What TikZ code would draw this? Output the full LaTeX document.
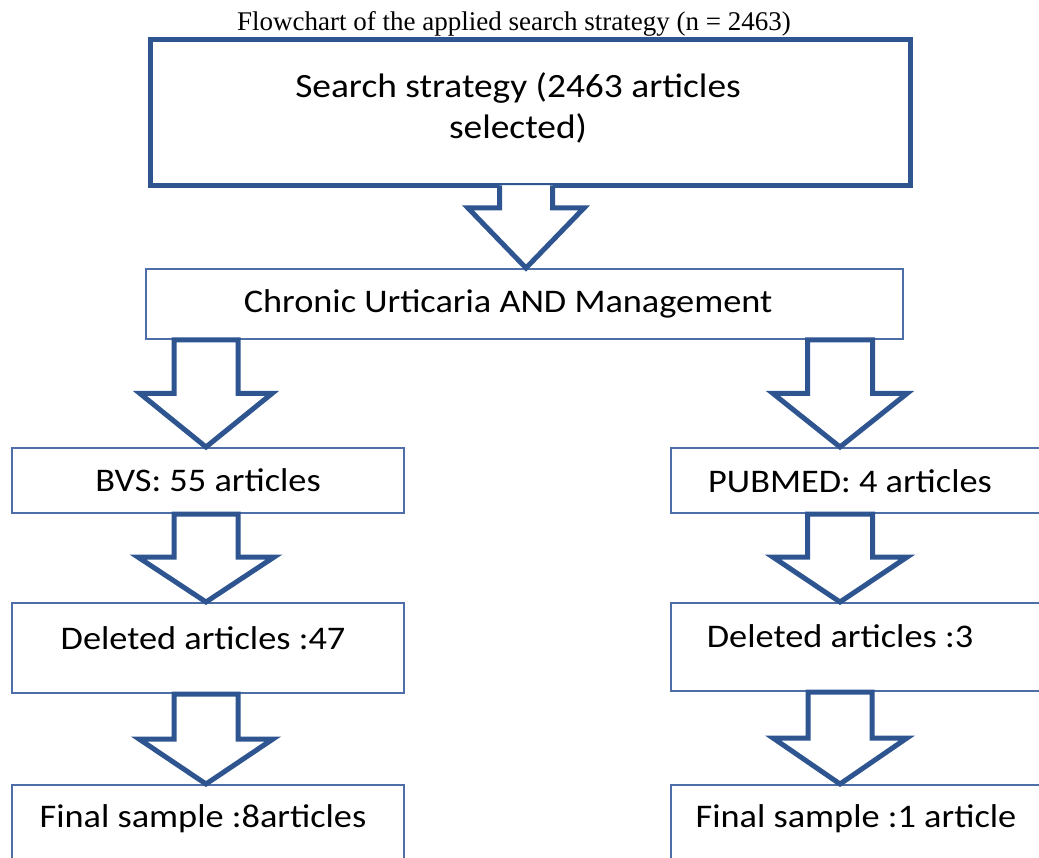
\documentclass[tikz,border=0pt]{standalone}
\usepackage{fontspec}
\usepackage{tikz}
\usetikzlibrary{calc}
\newfontfamily\titleFont{Liberation Serif}
\newfontfamily\boxFont[FakeStretch=1.1]{Carlito}
\definecolor{arrowBlue}{RGB}{47,85,145}
\definecolor{thinBlue}{RGB}{78,110,168}
\tikzstyle{canvas} = [x = 1pt, y = -1pt]
\tikzstyle{thickBoxStyle} = [draw=arrowBlue, line width=5pt, fill=white, inner sep=0pt, anchor=north west]
\tikzstyle{thinBoxStyle} = [draw=thinBlue, line width=2pt, fill=white, inner sep=0pt, anchor=north west]
\tikzstyle{arrowStyle} = [draw=arrowBlue, line width=5pt, fill=white, line join=miter]
\tikzstyle{bigText} = [font=\boxFont\fontsize{34pt}{41pt}\selectfont, inner sep=0pt, align=center]
\tikzstyle{boxText} = [font=\boxFont\fontsize{33pt}{40pt}\selectfont, inner sep=0pt, anchor=base]
\tikzstyle{titleText} = [font=\titleFont\fontsize{27pt}{31pt}\selectfont, inner sep=0pt, anchor=base]
\newcommand{\thickBox}[5]{\node [thickBoxStyle, minimum width=#4pt, minimum height=#5pt] (#1) at (#2,#3) {};}
\newcommand{\thinBox}[5]{\node [thinBoxStyle, minimum width=#4pt, minimum height=#5pt] (#1) at (#2,#3) {};}
\newcommand{\boxLabel}[4]{\node [boxText] (#1) at (#2,#3) {#4};}
\newcommand{\blockArrow}[6]{
  \path (#2.south -| #1) coordinate (arrowTop) (#3.north -| #1) coordinate (arrowTip);
  \filldraw [arrowStyle] let \p1 = (arrowTop), \p2 = (arrowTip), \p3 = ($(arrowTop)!#6!(arrowTip)$) in
    (\x1 - #4pt, \y1) -- (\x1 - #4pt, \y3) -- (\x1 - #5pt, \y3) -- (\p2)
    -- (\x1 + #5pt, \y3) -- (\x1 + #4pt, \y3) -- (\x1 + #4pt, \y1) -- cycle;
}
\newcommand{\blockArrowJoined}[6]{
  \path (#2.south -| #1) coordinate (arrowTop) (#3.north -| #1) coordinate (arrowTip);
  \fill [white] let \p1 = (arrowTop), \p2 = (arrowTip), \p3 = ($(arrowTop)!#6!(arrowTip)$) in
    (\x1 - #4pt, \y1 + 2.5pt) -- (\x1 - #4pt, \y3) -- (\x1 - #5pt, \y3) -- (\p2)
    -- (\x1 + #5pt, \y3) -- (\x1 + #4pt, \y3) -- (\x1 + #4pt, \y1 + 2.5pt) -- cycle;
  \draw [arrowStyle] let \p1 = (arrowTop), \p2 = (arrowTip), \p3 = ($(arrowTop)!#6!(arrowTip)$) in
    (\x1 - #4pt, \y1 + 2.5pt) -- (\x1 - #4pt, \y3) -- (\x1 - #5pt, \y3) -- (\p2)
    -- (\x1 + #5pt, \y3) -- (\x1 + #4pt, \y3) -- (\x1 + #4pt, \y1 + 2.5pt);
}
\begin{document}
\begin{tikzpicture}[canvas]
  \useasboundingbox (0,0) rectangle (1039,858);
  \clip (0,0) rectangle (1039,858);
  \fill [white] (0,0) rectangle (1039,858);

  \node [titleText] (title) at (514,31) {Flowchart of the applied search strategy (n = 2463)};

  \coordinate (topAxis) at (526,0);
  \coordinate (leftAxis) at (206,0);
  \coordinate (rightAxis) at (840,0);

  \thickBox{searchBox}{148}{37}{760}{146}
  \node [bigText] (searchText) at (518,108) {Search strategy (2463 articles\\selected)};

  \thinBox{chronicBox}{145}{268}{757}{70}
  \boxLabel{chronicText}{508}{313}{Chronic Urticaria AND Management}

  \thinBox{bvsBox}{11}{447}{392}{65}
  \boxLabel{bvsText}{208}{491}{BVS: 55 articles}
  \thinBox{pubmedBox}{670}{447}{400}{65}
  \boxLabel{pubmedText}{850}{492}{PUBMED: 4 articles}

  \thinBox{deletedLeftBox}{11}{602}{392}{90}
  \boxLabel{deletedLeftText}{203}{649}{Deleted articles :47}
  \thinBox{deletedRightBox}{670}{602}{400}{88}
  \boxLabel{deletedRightText}{840}{647}{Deleted articles :3}

  \thinBox{finalLeftBox}{11}{784}{392}{120}
  \boxLabel{finalLeftText}{203}{827}{Final sample :8articles}
  \thinBox{finalRightBox}{670}{784}{400}{120}
  \boxLabel{finalRightText}{856}{827}{Final sample :1 article}

  \blockArrowJoined{topAxis}{searchBox}{chronicBox}{26.5}{58}{0.25}
  \blockArrow{leftAxis}{chronicBox}{bvsBox}{32}{66}{0.5}
  \blockArrow{rightAxis}{chronicBox}{pubmedBox}{32.5}{67}{0.5}
  \blockArrow{leftAxis}{bvsBox}{deletedLeftBox}{32}{68}{0.49}
  \blockArrow{rightAxis}{pubmedBox}{deletedRightBox}{32.5}{67}{0.49}
  \blockArrow{leftAxis}{deletedLeftBox}{finalLeftBox}{32}{67}{0.5}
  \blockArrow{rightAxis}{deletedRightBox}{finalRightBox}{32}{67}{0.5}
\end{tikzpicture}
\end{document}
